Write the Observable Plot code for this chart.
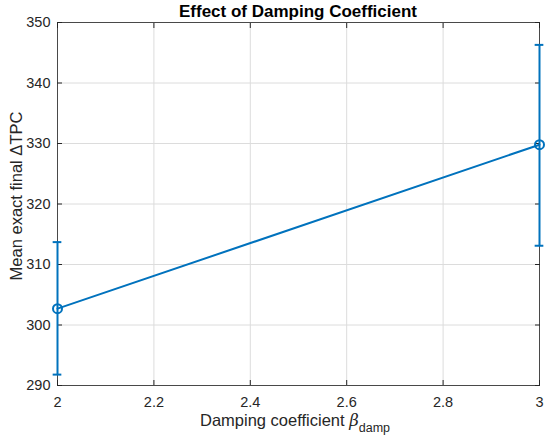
<!DOCTYPE html>
<html><head><meta charset="utf-8">
<script src="https://cdn.jsdelivr.net/npm/d3@7"></script>
<script src="https://cdn.jsdelivr.net/npm/@observablehq/plot@0.6"></script>
<style>body{margin:0;background:#fff;} svg{display:block;}</style>
</head><body><div id="chart"></div>
<script>
const betaValues = [2, 3];
const meanTPC = [302.7, 329.8];
const lowerTPC = [291.8, 313.1];
const upperTPC = [313.7, 346.3];
const xTicks = [2, 2.2, 2.4, 2.6, 2.8, 3];
const yTicks = [290, 300, 310, 320, 330, 340, 350];
const titleText = "Effect of Damping Coefficient";
const yLabel = "Mean exact final \u0394TPC";

const data = betaValues.map((x, i) => ({x, m: meanTPC[i], lo: lowerTPC[i], hi: upperTPC[i]}));
const blue = "#0072BD";
const axisColor = "#262626";
const cap = 0.009;
const font = "Liberation Sans, Arial, sans-serif";

const plot = Plot.plot({
  width: 550, height: 442,
  marginLeft: 57, marginRight: 11, marginTop: 22, marginBottom: 57,
  style: {fontFamily: font, fontSize: "14.5px", color: axisColor, background: "#fff"},
  x: {domain: [2, 3]},
  y: {domain: [290, 350]},
  marks: [
    Plot.gridX(xTicks, {stroke: "#dcdcdc", strokeOpacity: 1}),
    Plot.gridY(yTicks, {stroke: "#dcdcdc", strokeOpacity: 1}),
    Plot.frame({stroke: axisColor, strokeWidth: 0.8}),
    Plot.axisX(xTicks, {anchor: "bottom", tickSize: 0, tickPadding: 11, tickFormat: d => String(+d.toFixed(1)), label: null, fill: axisColor, fontSize: 14.5}),
    Plot.axisX(xTicks, {anchor: "bottom", tickSize: -5, text: null, label: null, stroke: axisColor}),
    Plot.axisX(xTicks, {anchor: "top", tickSize: -5, text: null, label: null, stroke: axisColor}),
    Plot.axisY(yTicks, {anchor: "left", tickSize: 0, tickPadding: 7, label: null, fill: axisColor, fontSize: 14.5}),
    Plot.axisY(yTicks, {anchor: "left", tickSize: -5, text: null, label: null, stroke: axisColor}),
    Plot.axisY(yTicks, {anchor: "right", tickSize: -5, text: null, label: null, stroke: axisColor}),
    Plot.ruleX(data, {x: "x", y1: "lo", y2: "hi", stroke: blue, strokeWidth: 2}),
    Plot.ruleY(data, {y: "lo", x1: d => d.x - cap, x2: d => d.x + cap, stroke: blue, strokeWidth: 2}),
    Plot.ruleY(data, {y: "hi", x1: d => d.x - cap, x2: d => d.x + cap, stroke: blue, strokeWidth: 2}),
    Plot.line(data, {x: "x", y: "m", stroke: blue, strokeWidth: 2}),
    Plot.dot(data, {x: "x", y: "m", r: 4.5, stroke: blue, strokeWidth: 2, fill: "none"})
  ]
});

const svg = d3.select(plot);
svg.append("text")
  .attr("x", 298).attr("y", 17).attr("text-anchor", "middle")
  .attr("font-family", font)
  .attr("font-size", 17).attr("font-weight", "bold").attr("fill", "#000")
  .text(titleText);
svg.append("text")
  .attr("transform", "translate(22,196) rotate(-90)").attr("text-anchor", "middle")
  .attr("font-family", font)
  .attr("font-size", 16.5).attr("fill", axisColor)
  .text(yLabel);
const xl = svg.append("text")
  .attr("x", 295).attr("y", 426).attr("text-anchor", "middle")
  .attr("font-family", font)
  .attr("font-size", 16.5).attr("fill", axisColor);
xl.append("tspan").text("Damping coefficient ");
xl.append("tspan").attr("font-family", "DejaVu Serif, serif").attr("font-style", "italic").text("\u03B2");
xl.append("tspan").attr("dy", 6).attr("font-size", 12.5).text("damp");

document.getElementById("chart").appendChild(plot);
</script>
</body></html>
